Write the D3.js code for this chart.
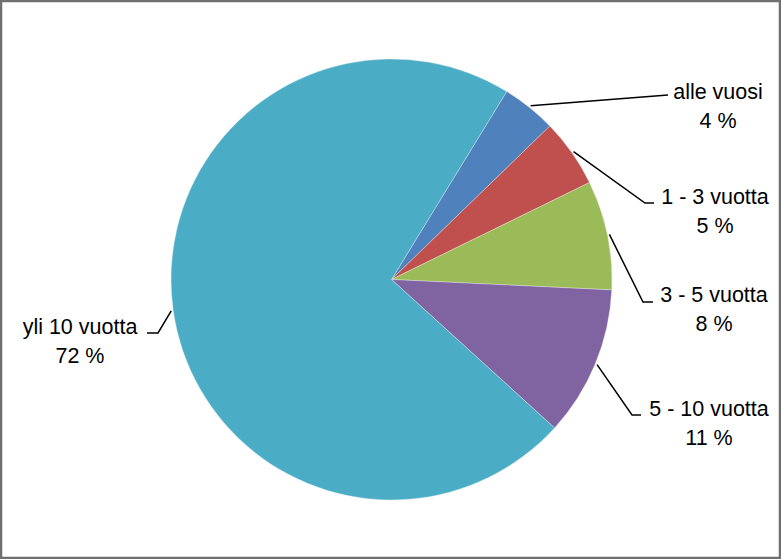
<!DOCTYPE html>
<html>
<head>
<meta charset="utf-8">
<script src="https://cdn.jsdelivr.net/npm/d3@7"></script>
<style>
  html, body { margin: 0; padding: 0; background: #fff; }
  svg { display: block; }
  .lbl { font-family: "Liberation Sans", Arial, sans-serif; font-size: 21.5px; fill: #000; }
</style>
</head>
<body>
<svg id="chart" width="781" height="559"></svg>
<script>
// data
var categories = ["alle vuosi", "1 - 3 vuotta", "3 - 5 vuotta", "5 - 10 vuotta", "yli 10 vuotta"];
var values = [4, 5, 8, 11, 72];
var colors = ["#4f81bd", "#c0504d", "#9bbb59", "#8064a2", "#4bacc6"];

// label placement: text centre x, first baseline y, elbow of the leader line
var labelPos = [
  { x: 718, y: 99,  ex: 668, ey: 95,  tx: 668 },
  { x: 715, y: 204, ex: 645, ey: 203, tx: 654 },
  { x: 714, y: 302, ex: 643, ey: 302, tx: 653 },
  { x: 709, y: 416, ex: 632, ey: 415, tx: 641 },
  { x: 80,  y: 334, ex: 158, ey: 333, tx: 147 }
];

var W = 781, H = 559;
var cx = 391.5, cy = 279.5, r = 220.5;
var start = 31.5 * Math.PI / 180;

var svg = d3.select("#chart");

// outer frame
svg.append("rect")
  .attr("x", 1).attr("y", 1)
  .attr("width", W - 2).attr("height", H - 2)
  .attr("fill", "#fff")
  .attr("stroke", "#6f6f6f")
  .attr("stroke-width", 2.5);

var pie = d3.pie()
  .sort(null)
  .value(function(d) { return d; })
  .startAngle(start)
  .endAngle(start + 2 * Math.PI);

var arcs = pie(values);

var arc = d3.arc().innerRadius(0).outerRadius(r);
var edge = d3.arc().innerRadius(r + 2).outerRadius(r + 2);

var g = svg.append("g").attr("transform", "translate(" + cx + "," + cy + ")");

g.selectAll("path.slice")
  .data(arcs)
  .enter().append("path")
    .attr("class", "slice")
    .attr("d", arc)
    .attr("fill", function(d, i) { return colors[i]; })
    .attr("stroke", "#fff")
    .attr("stroke-opacity", 0.5)
    .attr("stroke-width", 0.6);

// leader lines
svg.selectAll("polyline.leader")
  .data(arcs)
  .enter().append("polyline")
    .attr("class", "leader")
    .attr("fill", "none")
    .attr("stroke", "#000")
    .attr("stroke-width", 1.5)
    .attr("points", function(d, i) {
      var c = edge.centroid(d);
      var p = labelPos[i];
      return [[cx + c[0], cy + c[1]], [p.ex, p.ey], [p.tx, p.ey]].map(function(q) { return q.join(","); }).join(" ");
    });

// labels
var fmt = function(v) { return v + " %"; };
var lbl = svg.selectAll("text.lbl")
  .data(arcs)
  .enter().append("text")
    .attr("class", "lbl")
    .attr("text-anchor", "middle")
    .attr("x", function(d, i) { return labelPos[i].x; })
    .attr("y", function(d, i) { return labelPos[i].y; });

lbl.append("tspan")
  .attr("x", function(d, i) { return labelPos[i].x; })
  .text(function(d, i) { return categories[i]; });

lbl.append("tspan")
  .attr("x", function(d, i) { return labelPos[i].x; })
  .attr("dy", 29)
  .text(function(d) { return fmt(d.value); });
</script>
</body>
</html>
